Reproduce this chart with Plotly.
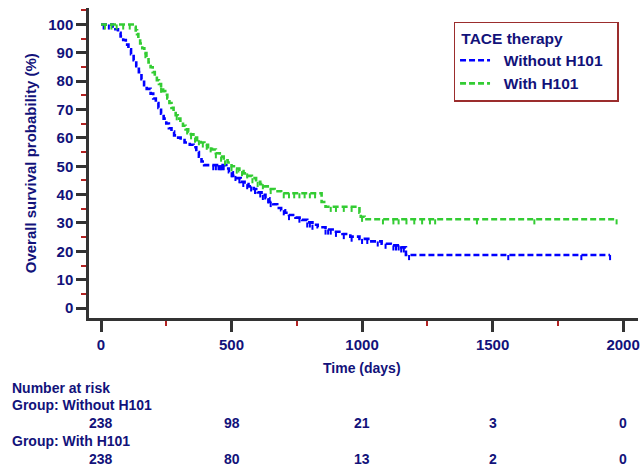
import numpy as np
import plotly.graph_objects as go

# ---------------- data ----------------
# Kaplan-Meier steps: Without H101
t_without = [0, 45, 55, 65, 75, 85, 95, 105, 115, 125, 135, 145, 155, 165, 175, 190, 200, 210, 220,
             230, 240, 250, 260, 270, 280, 290, 305, 320, 340, 355, 365, 375, 385, 395, 480, 490,
             505, 520, 535, 550, 565, 585, 600, 615, 630, 645, 660, 675, 690, 705, 720, 745, 770,
             790, 810, 830, 860, 895, 925, 955, 990, 1030, 1075, 1110, 1150, 1168, 1950]
s_without = [100, 99.2, 98.3, 97.1, 95.8, 94.5, 92.9, 91.2, 89.5, 87.4, 85.3, 83.2, 80.7, 78.6, 77.3,
             75.6, 73.9, 72.3, 70.6, 68.5, 66.8, 65.1, 63.4, 62.2, 60.9, 60.1, 59.2, 58.4, 57.6, 56.7,
             55.0, 53.4, 51.7, 50.4, 49.2, 47.9, 46.6, 45.8, 44.5, 43.7, 42.9, 42.0, 40.8, 39.9, 38.7,
             37.4, 36.6, 35.3, 34.5, 33.6, 32.8, 31.9, 31.1, 30.2, 29.4, 28.5, 27.7, 26.9, 26.1, 25.2,
             24.4, 23.5, 22.7, 22.1, 21.4, 18.7, 18.7]
c_without = [10, 30, 430, 440, 450, 455, 460, 465, 470, 500, 515, 530, 545, 560, 575, 590, 610, 620,
             640, 650, 700, 720, 760, 790, 800, 810, 860, 870, 880, 900, 930, 960, 1000, 1020, 1060,
             1090, 1120, 1130, 1140, 1150, 1160, 1180, 1560, 1840, 1950]

# Kaplan-Meier steps: With H101
t_with = [0, 128, 133, 138, 143, 150, 158, 166, 174, 182, 190, 198, 206, 214, 222, 230, 238, 246,
          254, 262, 270, 278, 286, 294, 304, 314, 324, 334, 344, 354, 368, 382, 396, 410, 425, 440,
          455, 470, 485, 500, 515, 530, 546, 562, 578, 594, 610, 625, 645, 665, 690, 845, 860, 990,
          995, 1010, 1975]
s_with = [100, 99.2, 97.9, 96.6, 95.0, 93.3, 91.6, 89.9, 88.2, 86.6, 84.9, 83.2, 81.9, 80.3, 79.0,
          77.7, 76.5, 75.2, 73.9, 72.3, 70.6, 69.3, 68.0, 66.8, 65.5, 64.3, 63.0, 62.2, 61.3, 60.1,
          59.2, 58.4, 57.6, 56.7, 55.9, 54.6, 53.4, 52.1, 51.3, 50.0, 49.2, 48.3, 47.5, 46.6, 45.8,
          44.5, 43.7, 42.9, 42.0, 41.2, 40.5, 37.4, 35.7, 33.6, 32.2, 31.3, 31.3]
c_with = [15, 40, 60, 85, 110, 170, 230, 290, 330, 345, 360, 375, 390, 405, 420, 440, 460, 475,
          500, 520, 540, 560, 580, 600, 620, 650, 700, 720, 740, 760, 780, 800, 820, 880, 900, 930,
          960, 1000, 1080, 1120, 1140, 1170, 1200, 1230, 1260, 1280, 1440, 1660, 1975]

risk_times = [0, 500, 1000, 1500, 2000]
risk_without = [238, 98, 21, 3, 0]
risk_with = [238, 80, 13, 2, 0]

group_names = ["Without H101", "With H101"]
legend_title = "TACE therapy"
colors = ["#0000FF", "#33CC33"]

TXT = "#12127a"
FONT = "Liberation Sans"
NB = "\u00a0"

fig = go.Figure()


def censor_segments(times, surv, ctimes, drop=1.8):
    times = np.asarray(times, float)
    surv = np.asarray(surv, float)
    xs, ys = [], []
    for c in ctimes:
        i = np.searchsorted(times, c, side="right") - 1
        v = surv[max(i, 0)]
        xs += [c, c, None]
        ys += [v, v - drop, None]
    return xs, ys


for name, t, s, c, col in [(group_names[0], t_without, s_without, c_without, colors[0]),
                           (group_names[1], t_with, s_with, c_with, colors[1])]:
    fig.add_trace(go.Scatter(x=t, y=s, mode="lines", name=NB * 2 + name + NB * 2,
                             line=dict(color=col, width=2.6, dash="6px,3px", shape="hv"),
                             hoverinfo="skip"))
    cx, cy = censor_segments(t, s, c)
    fig.add_trace(go.Scatter(x=cx, y=cy, mode="lines", showlegend=False,
                             line=dict(color=col, width=2), hoverinfo="skip"))

axis_font = dict(family=FONT, size=15, color=TXT, weight="bold")
leg_font = dict(family=FONT, size=15.5, color=TXT, weight="bold")

fig.update_layout(
    width=644, height=471,
    margin=dict(l=89, r=4, t=8, b=153),
    paper_bgcolor="white", plot_bgcolor="white",
    font=dict(family=FONT, size=15, color=TXT),
    showlegend=True,
    legend=dict(
        x=0.664, y=0.955, xanchor="left", yanchor="top",
        bgcolor="white", bordercolor="#9B2D2D", borderwidth=1.5,
        title=dict(text=NB + legend_title, font=leg_font, side="top"),
        font=leg_font,
        tracegroupgap=0, itemwidth=30,
    ),
    xaxis=dict(
        range=[-46, 2057], tickvals=risk_times, ticktext=[str(v) for v in risk_times],
        showgrid=False, zeroline=False, showline=True, linecolor="#333333", linewidth=2.5,
        ticks="outside", ticklen=11, tickwidth=2.5, tickcolor="#333333",
        tickfont=axis_font,
        minor=dict(dtick=250, tick0=0, ticks="outside", ticklen=5, tickwidth=1.5, tickcolor="#B22222"),
    ),
    yaxis=dict(
        range=[-3.5, 105.8], tickvals=list(range(0, 101, 10)),
        showgrid=False, zeroline=False, showline=True, linecolor="#333333", linewidth=2.5,
        ticks="outside", ticklen=10, tickwidth=2.5, tickcolor="#333333",
        tickfont=axis_font,
        minor=dict(dtick=5, tick0=0, ticks="outside", ticklen=5, tickwidth=1.5, tickcolor="#B22222"),
    ),
)

ann_font = dict(family=FONT, size=14, color=TXT, weight="bold")

# axis titles
fig.add_annotation(text="Overall survival probability (%)", xref="paper", yref="paper",
                   x=-0.107, y=0.50, xanchor="center", yanchor="middle", textangle=-90,
                   showarrow=False, font=dict(family=FONT, size=15, color=TXT, weight="bold"))
fig.add_annotation(text="Time (days)", xref="x", yref="paper", x=1000, y=-0.162,
                   xanchor="center", yanchor="middle", showarrow=False, font=ann_font)

# number at risk table
left_x = (10 - 89) / 551
fig.add_annotation(text="Number at risk", xref="paper", yref="paper", x=left_x, y=-0.2265,
                   xanchor="left", yanchor="middle", showarrow=False, font=ann_font)
fig.add_annotation(text="Group: " + group_names[0], xref="paper", yref="paper", x=left_x, y=-0.2816,
                   xanchor="left", yanchor="middle", showarrow=False, font=ann_font)
fig.add_annotation(text="Group: " + group_names[1], xref="paper", yref="paper", x=left_x, y=-0.398,
                   xanchor="left", yanchor="middle", showarrow=False, font=ann_font)
for tt, n1, n2 in zip(risk_times, risk_without, risk_with):
    fig.add_annotation(text=str(n1), xref="x", yref="paper", x=tt, y=-0.340,
                       xanchor="center", yanchor="middle", showarrow=False, font=ann_font)
    fig.add_annotation(text=str(n2), xref="x", yref="paper", x=tt, y=-0.456,
                       xanchor="center", yanchor="middle", showarrow=False, font=ann_font)

fig.write_html("out.html", config={"displayModeBar": False},
               post_script="document.body.style.margin='0';document.body.style.padding='0';")
